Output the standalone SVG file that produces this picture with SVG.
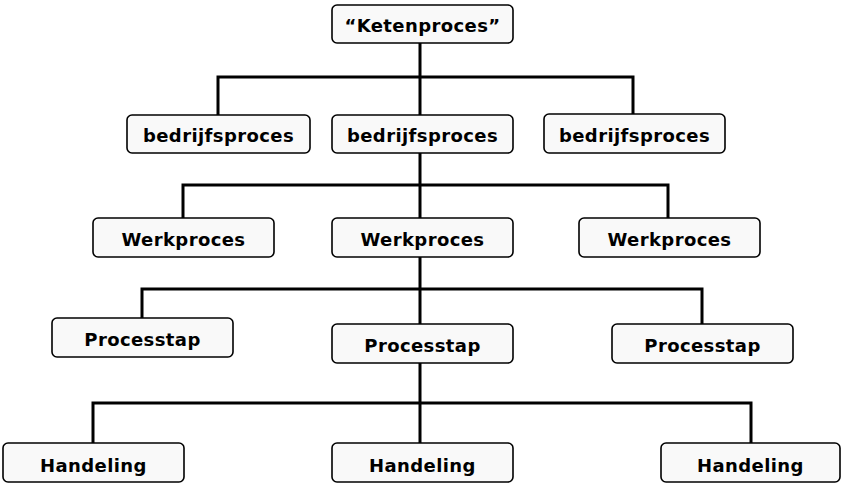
<svg xmlns="http://www.w3.org/2000/svg" width="842" height="485" viewBox="0 0 842 485">
<style>
.box{fill:#f9f9f9;stroke:#000;stroke-width:1.6}
.lbl{font-family:"DejaVu Sans",sans-serif;font-weight:bold;font-size:18px;fill:#000;text-anchor:middle;letter-spacing:0.4px}
.con{fill:none;stroke:#000;stroke-width:3;stroke-linecap:square;stroke-linejoin:miter}
</style>
<rect width="842" height="485" fill="#fff"/>
<g id="connectors">
<path class="con" d="M420,43V77M218,115V77H633V114M420,77V115"/>
<path class="con" d="M420,153V185M183,218V185H668V218M420,185V218"/>
<path class="con" d="M420,257V289M142,318V289H702V324M420,289V324"/>
<path class="con" d="M420,363V403M93,443V403H751V443M420,403V443"/>
</g>
<g id="n-keten"><rect class="box" x="332" y="5" width="181" height="38" rx="5"/><text class="lbl" x="422.5" y="32">“Ketenproces”</text></g>
<g id="n-bp1"><rect class="box" x="127" y="115" width="183" height="38" rx="5"/><text class="lbl" x="218.5" y="142">bedrijfsproces</text></g>
<g id="n-bp2"><rect class="box" x="332" y="115" width="181" height="38" rx="5"/><text class="lbl" x="422.5" y="142">bedrijfsproces</text></g>
<g id="n-bp3"><rect class="box" x="544" y="114" width="181" height="39" rx="5"/><text class="lbl" x="634.5" y="142">bedrijfsproces</text></g>
<g id="n-wp1"><rect class="box" x="93" y="218" width="181" height="39" rx="5"/><text class="lbl" x="183.5" y="246">Werkproces</text></g>
<g id="n-wp2"><rect class="box" x="332" y="218" width="181" height="39" rx="5"/><text class="lbl" x="422.5" y="246">Werkproces</text></g>
<g id="n-wp3"><rect class="box" x="579" y="218" width="181" height="39" rx="5"/><text class="lbl" x="669.5" y="246">Werkproces</text></g>
<g id="n-ps1"><rect class="box" x="52" y="318" width="181" height="39" rx="5"/><text class="lbl" x="142.5" y="346">Processtap</text></g>
<g id="n-ps2"><rect class="box" x="332" y="324" width="181" height="39" rx="5"/><text class="lbl" x="422.5" y="352">Processtap</text></g>
<g id="n-ps3"><rect class="box" x="612" y="324" width="181" height="39" rx="5"/><text class="lbl" x="702.5" y="352">Processtap</text></g>
<g id="n-h1"><rect class="box" x="3" y="443" width="181" height="39" rx="5"/><text class="lbl" x="93.5" y="472">Handeling</text></g>
<g id="n-h2"><rect class="box" x="332" y="443" width="181" height="39" rx="5"/><text class="lbl" x="422.5" y="472">Handeling</text></g>
<g id="n-h3"><rect class="box" x="661" y="443" width="179" height="39" rx="5"/><text class="lbl" x="750.5" y="472">Handeling</text></g>
</svg>
